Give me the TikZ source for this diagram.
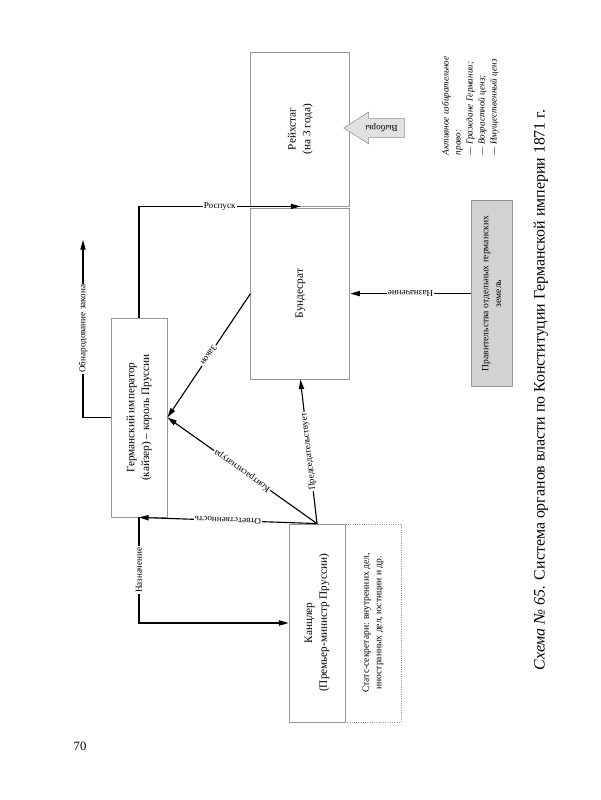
\documentclass[tikz,border=0pt]{standalone}
\usepackage{fontspec}
\setmainfont{Liberation Serif}
\usetikzlibrary{arrows.meta,shapes.arrows}
\definecolor{boxgray}{RGB}{150,150,150}
\definecolor{govfill}{RGB}{210,210,210}
\definecolor{votefill}{RGB}{225,225,225}
\newcommand{\boxfont}{\fontsize{8}{10.5}\selectfont}
\newcommand{\kleinfont}{\fontsize{6.8}{9}\selectfont}
\newcommand{\labfont}{\fontsize{6.5}{8}\selectfont}
\newcommand{\notefont}{\fontsize{6.5}{8.5}\selectfont}
\newcommand{\captfont}{\fontsize{11.3}{13}\selectfont}

\begin{document}
\begin{tikzpicture}[>={Triangle[length=2.4mm,width=1.3mm]},
    rahmen/.style={draw=boxgray,line width=0.6pt},
    pfeil/.style={->,line width=0.8pt},
    inhalt/.style={rotate=90,align=center,font=\boxfont},
    marke/.style={font=\labfont,fill=white,inner sep=0.8pt}]
  \useasboundingbox (0,0) rectangle (15,20);
  % Organe
  \node[rahmen,minimum width=2.475cm,minimum height=3.85cm] (reich) at (7.51,16.775) {};
  \node[inhalt] at (reich) {Рейхстаг\\(на 3 года)};
  \node[rahmen,minimum width=2.475cm,minimum height=4.275cm] (bund) at (7.51,12.66) {};
  \node[inhalt] at (bund) {Бундесрат};
  \node[rahmen,minimum width=1.4cm,minimum height=4.975cm] (kaiser) at (3.475,9.5625) {};
  \node[inhalt] at (kaiser) {Германский император\\(кайзер) – король Пруссии};
  \node[rahmen,minimum width=1.4cm,minimum height=4.95cm] (kanz) at (7.925,4.425) {};
  \node[inhalt] at (kanz) {Канцлер\\(Премьер-министр Пруссии)};
  \node[rahmen,densely dotted,minimum width=1.4cm,minimum height=4.95cm] (staats) at (9.325,4.425) {};
  \node[inhalt,font=\kleinfont] at (staats) {Статс-секретари: внутренних дел,\\иностранных дел, юстиции и др.};
  \node[rahmen,fill=govfill,minimum width=1.025cm,minimum height=4.65cm] (land) at (12.29,12.66) {};
  \node[inhalt,font=\kleinfont] at (land) {Правительства отдельных германских\\земель};
  \node[single arrow,rotate=180,draw=boxgray,fill=votefill,font=\labfont,minimum height=1.525cm,
    inner xsep=1.2pt,inner ysep=3.5pt,single arrow head extend=0.16cm,single arrow tip angle=65] (wahl) at (9.54,16.8) {Выборы};
  \node[rotate=90,anchor=north west,align=left,font=\notefont\itshape] (recht) at (10.93,16.0) {Активное избирательное\\право:\\— Граждане Германии;\\— Возрастной ценз;\\— Имущественный ценз};
  % Verbindungen
  \coordinate (publ) at (2.075,14.0);
  \draw[pfeil] (kaiser.north) |- node[marke,pos=0.75] {Роспуск} (reich.south);
  \draw[pfeil] (kaiser.west) -| node[marke,pos=0.75,rotate=90] {Обнародование закона} (publ);
  \draw[pfeil] (bund.west) -- node[marke,sloped,allow upside down] {Закон} (kaiser.east);
  \draw[pfeil] (kanz.north) -- node[marke,sloped,allow upside down] {Контрасигнатура} (kaiser.east);
  \draw[pfeil] (kanz.north) -- node[marke,sloped,allow upside down] {Председательствует} (bund.south);
  \draw[pfeil] (kanz.north) -- node[marke,sloped,allow upside down] {Ответственность} (kaiser.south);
  \draw[pfeil] (kaiser.south) |- node[marke,pos=0.25,rotate=90] {Назначение} (kanz.west);
  \draw[pfeil] (land.west) -- node[marke,rotate=180] {Назначение} (bund.east);
  % Unterschrift
  \node[rotate=90,font=\captfont] (titel) at (13.525,10.25) {\textit{Схема №~65.} Система органов власти по Конституции Германской империи 1871~г.};
  \node[font=\fontsize{9}{11}\selectfont] (seite) at (2.0,1.35) {70};
\end{tikzpicture}
\end{document}
